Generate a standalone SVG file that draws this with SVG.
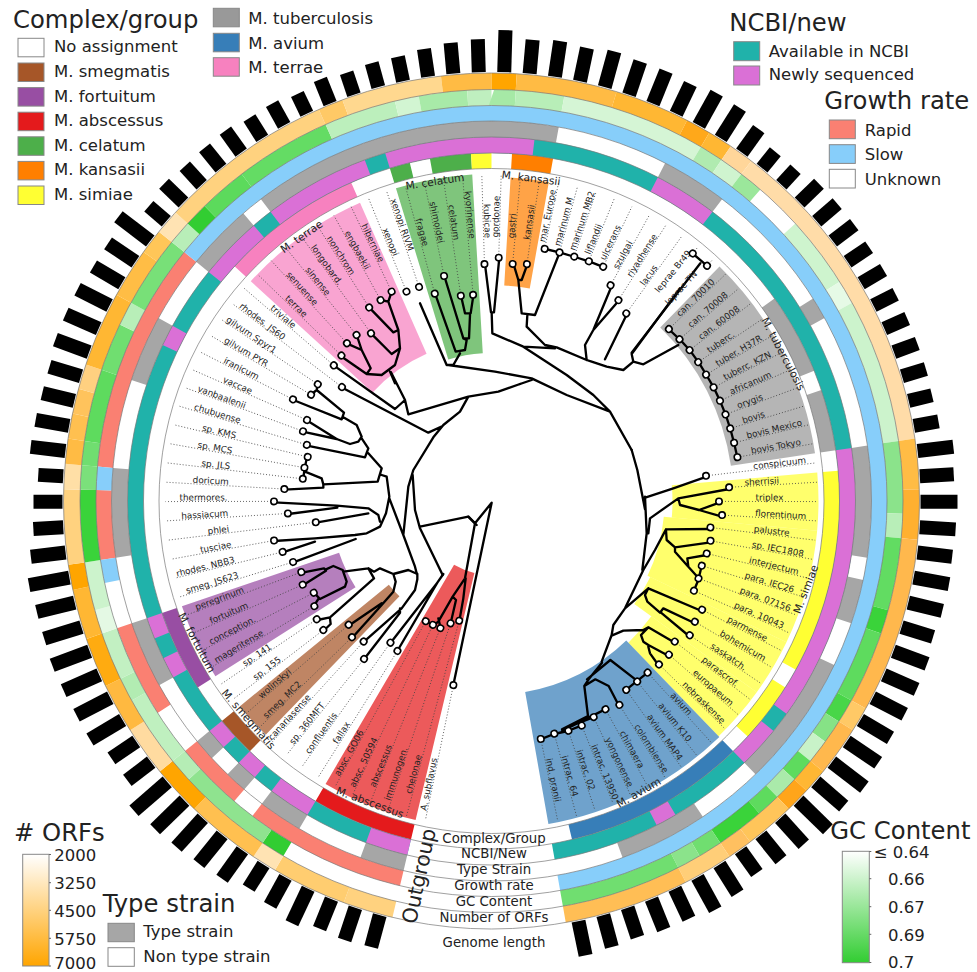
<svg xmlns="http://www.w3.org/2000/svg" width="977" height="972" viewBox="0 0 977 972">
<style>
text{font-family:"DejaVu Sans",sans-serif;fill:#222}
.ln{stroke:#444;stroke-width:.8;stroke-dasharray:1 2}
.n text{font-size:8.8px;text-anchor:middle}
.n circle{fill:#fff;stroke:#000;stroke-width:1.6;r:3.2px}
.t{fill:none;stroke:#000;stroke-width:7;stroke-linejoin:round;stroke-linecap:round}
.g{font-size:10.7px;text-anchor:middle}
.h{font-size:24.3px}
.l{font-size:16.5px}
.c{font-size:13.3px;text-anchor:middle}
.k{stroke:#888;stroke-width:1}
.e{fill:none;stroke:#777;stroke-width:.7}
.b rect{fill:#000}
.m{stroke:#666;stroke-width:1}
</style>
<defs>
<circle id="o" r="419.75" pathLength="360" fill="none" stroke-width="16.5"/>
<circle id="p" r="403.5" pathLength="360" fill="none" stroke-width="16"/>
<circle id="q" r="387.75" pathLength="360" fill="none" stroke-width="15.5"/>
<circle id="r" r="372" pathLength="360" fill="none" stroke-width="16"/>
<circle id="u" r="356" pathLength="360" fill="none" stroke-width="16"/>
<circle id="v" r="340.25" pathLength="360" fill="none" stroke-width="15.5"/>
<linearGradient id="go" x1="0" y1="0" x2="0" y2="1"><stop offset="0" stop-color="#fff"/><stop offset="1" stop-color="#ffa500"/></linearGradient>
<linearGradient id="gg" x1="0" y1="0" x2="0" y2="1"><stop offset="0" stop-color="#fff"/><stop offset="1" stop-color="#32cd32"/></linearGradient>
</defs>
<g transform="translate(491.5 501)">
<g id="strips" transform="rotate(90)" fill="none" stroke-opacity=".72">
<circle r="201" pathLength="360" stroke="#e41a1c" stroke-width="254" stroke-dasharray="17 720" stroke-dashoffset="-13.4"/>
<circle r="228.75" pathLength="360" stroke="#a65628" stroke-width="192.5" stroke-dasharray="6.8 720" stroke-dashoffset="-44"/>
<circle r="244" pathLength="360" stroke="#984ea3" stroke-width="166" stroke-dasharray="13.6 720" stroke-dashoffset="-57.6"/>
<circle r="243.5" pathLength="360" stroke="#f781bf" stroke-width="165" stroke-dasharray="23.8 720" stroke-dashoffset="-132.4"/>
<circle r="237.5" pathLength="360" stroke="#4daf4a" stroke-width="179" stroke-dasharray="13.6 720" stroke-dashoffset="-163"/>
<circle r="270" pathLength="360" stroke="#ff7f00" stroke-width="108" stroke-dasharray="6.8 720" stroke-dashoffset="-183.4"/>
<circle r="284.5" pathLength="360" stroke="#999" stroke-width="85" stroke-dasharray="37.4 720" stroke-dashoffset="-224.2"/>
<circle r="254" pathLength="360" stroke="#ffff33" stroke-width="146" stroke-dasharray="10.2 720" stroke-dashoffset="-265"/>
<circle r="250" pathLength="360" stroke="#ffff33" stroke-width="154" stroke-dasharray="20.4 720" stroke-dashoffset="-275.2"/>
<circle r="251.5" pathLength="360" stroke="#ffff33" stroke-width="151" stroke-dasharray="10.2 720" stroke-dashoffset="-295.6"/>
<circle r="262" pathLength="360" stroke="#ffff33" stroke-width="130" stroke-dasharray="10.2 720" stroke-dashoffset="-305.8"/>
<circle r="261" pathLength="360" stroke="#377eb8" stroke-width="134" stroke-dasharray="34 720" stroke-dashoffset="-316"/>
</g>
<g id="rings" transform="rotate(90)">
<g id="ring-complex">
<use href="#v" stroke="#e41a1c" stroke-dasharray="17 720" stroke-dashoffset="-13.4"/>
<use href="#v" stroke="#a65628" stroke-dasharray="6.8 720" stroke-dashoffset="-44"/>
<use href="#v" stroke="#984ea3" stroke-dasharray="13.6 720" stroke-dashoffset="-57.6"/>
<use href="#v" stroke="#f781bf" stroke-dasharray="23.8 720" stroke-dashoffset="-132.4"/>
<use href="#v" stroke="#4daf4a" stroke-dasharray="3.4 720" stroke-dashoffset="-163"/>
<use href="#v" stroke="#4daf4a" stroke-dasharray="6.8 720" stroke-dashoffset="-169.8"/>
<use href="#v" stroke="#ffff33" stroke-dasharray="3.4 720" stroke-dashoffset="-176.6"/>
<use href="#v" stroke="#ff7f00" stroke-dasharray="6.8 720" stroke-dashoffset="-183.4"/>
<use href="#v" stroke="#a6a6a6" stroke-dasharray="13.6 720" stroke-dashoffset="-234.4"/>
<use href="#v" stroke="#a6a6a6" stroke-dasharray="10.2 720" stroke-dashoffset="-251.4"/>
<use href="#v" stroke="#ffff33" stroke-dasharray="34 720" stroke-dashoffset="-265"/>
<use href="#v" stroke="#ffff33" stroke-dasharray="10.2 720" stroke-dashoffset="-302.4"/>
<use href="#v" stroke="#377eb8" stroke-dasharray="30.6 720" stroke-dashoffset="-316"/>
</g>
<g id="ring-ncbi">
<use href="#u" stroke="#20b2aa" stroke-dasharray="336.6 720" stroke-dashoffset="-13.4"/>
<use href="#u" stroke="#da70d6" stroke-dasharray="6.8 720" stroke-dashoffset="-13.4"/>
<use href="#u" stroke="#da70d6" stroke-dasharray="6.8 720" stroke-dashoffset="-30.4"/>
<use href="#u" stroke="#da70d6" stroke-dasharray="3.4 720" stroke-dashoffset="-40.6"/>
<use href="#u" stroke="#da70d6" stroke-dasharray="3.4 720" stroke-dashoffset="-47.4"/>
<use href="#u" stroke="#da70d6" stroke-dasharray="3.4 720" stroke-dashoffset="-61"/>
<use href="#u" stroke="#da70d6" stroke-dasharray="3.4 720" stroke-dashoffset="-67.8"/>
<use href="#u" stroke="#da70d6" stroke-dasharray="3.4 720" stroke-dashoffset="-115.4"/>
<use href="#u" stroke="#da70d6" stroke-dasharray="10.2 720" stroke-dashoffset="-129"/>
<use href="#u" stroke="#da70d6" stroke-dasharray="17 720" stroke-dashoffset="-142.6"/>
<use href="#u" stroke="#da70d6" stroke-dasharray="23.8 720" stroke-dashoffset="-163"/>
<use href="#u" stroke="#da70d6" stroke-dasharray="10.2 720" stroke-dashoffset="-207.2"/>
<use href="#u" stroke="#da70d6" stroke-dasharray="44.2 720" stroke-dashoffset="-261.6"/>
<use href="#u" stroke="#da70d6" stroke-dasharray="6.8 720" stroke-dashoffset="-309.2"/>
<use href="#u" stroke="#da70d6" stroke-dasharray="3.4 720" stroke-dashoffset="-329.6"/>
</g>
<g id="ring-type" stroke="#a6a6a6">
<use href="#r" stroke-dasharray="6.8 720" stroke-dashoffset="-13.4"/>
<use href="#r" stroke-dasharray="6.8 720" stroke-dashoffset="-30.4"/>
<use href="#r" stroke-dasharray="3.4 720" stroke-dashoffset="-40.6"/>
<use href="#r" stroke-dasharray="3.4 720" stroke-dashoffset="-47.4"/>
<use href="#r" stroke-dasharray="10.2 720" stroke-dashoffset="-61"/>
<use href="#r" stroke-dasharray="13.6 720" stroke-dashoffset="-81.4"/>
<use href="#r" stroke-dasharray="10.2 720" stroke-dashoffset="-108.6"/>
<use href="#r" stroke-dasharray="10.2 720" stroke-dashoffset="-129"/>
<use href="#r" stroke-dasharray="47.6 720" stroke-dashoffset="-142.6"/>
<use href="#r" stroke-dasharray="10.2 720" stroke-dashoffset="-207.2"/>
<use href="#r" stroke-dasharray="3.4 720" stroke-dashoffset="-237.8"/>
<use href="#r" stroke-dasharray="17 720" stroke-dashoffset="-261.6"/>
<use href="#r" stroke-dasharray="6.8 720" stroke-dashoffset="-282"/>
<use href="#r" stroke-dasharray="20.4 720" stroke-dashoffset="-295.6"/>
<use href="#r" stroke-dasharray="13.6 720" stroke-dashoffset="-326.2"/>
</g>
<g id="ring-growth">
<use href="#q" stroke="#fa8072" stroke-dasharray="23.8 720" stroke-dashoffset="-13.4"/>
<use href="#q" stroke="#fa8072" stroke-dasharray="10.2 720" stroke-dashoffset="-40.6"/>
<use href="#q" stroke="#fa8072" stroke-dasharray="13.6 720" stroke-dashoffset="-57.6"/>
<use href="#q" stroke="#fa8072" stroke-dasharray="10.2 720" stroke-dashoffset="-81.4"/>
<use href="#q" stroke="#fa8072" stroke-dasharray="34 720" stroke-dashoffset="-95"/>
<use href="#q" stroke="#87cefa" stroke-dasharray="3.4 720" stroke-dashoffset="-78"/>
<use href="#q" stroke="#87cefa" stroke-dasharray="3.4 720" stroke-dashoffset="-91.6"/>
<use href="#q" stroke="#87cefa" stroke-dasharray="221 720" stroke-dashoffset="-129"/>
</g>
<g id="ring-gc">
<use href="#p" stroke="#32cd32" stroke-dasharray="3.4 720" stroke-dashoffset="-30.4"/>
<use href="#p" stroke="#8fe38f" stroke-dasharray="13.6 720" stroke-dashoffset="-33.8"/>
<use href="#p" stroke="#b5edb5" stroke-dasharray="3.4 720" stroke-dashoffset="-47.4"/>
<use href="#p" stroke="#bff0bf" stroke-dasharray="10.2 720" stroke-dashoffset="-50.8"/>
<use href="#p" stroke="#b2ecb2" stroke-dasharray="3.4 720" stroke-dashoffset="-61"/>
<use href="#p" stroke="#c2f0c2" stroke-dasharray="6.8 720" stroke-dashoffset="-64.4"/>
<use href="#p" stroke="#e4f9e4" stroke-dasharray="3.4 720" stroke-dashoffset="-71.2"/>
<use href="#p" stroke="#ccf3cc" stroke-dasharray="6.8 720" stroke-dashoffset="-74.6"/>
<use href="#p" stroke="#3ad33a" stroke-dasharray="10.2 720" stroke-dashoffset="-81.4"/>
<use href="#p" stroke="#7be07b" stroke-dasharray="3.4 720" stroke-dashoffset="-91.6"/>
<use href="#p" stroke="#70de70" stroke-dasharray="3.4 720" stroke-dashoffset="-95"/>
<use href="#p" stroke="#5edb5e" stroke-dasharray="10.2 720" stroke-dashoffset="-98.4"/>
<use href="#p" stroke="#70de70" stroke-dasharray="6.8 720" stroke-dashoffset="-108.6"/>
<use href="#p" stroke="#b8eeb8" stroke-dasharray="3.4 720" stroke-dashoffset="-115.4"/>
<use href="#p" stroke="#78e078" stroke-dasharray="10.2 720" stroke-dashoffset="-118.8"/>
<use href="#p" stroke="#b8eeb8" stroke-dasharray="3.4 720" stroke-dashoffset="-129"/>
<use href="#p" stroke="#32cd32" stroke-dasharray="3.4 720" stroke-dashoffset="-132.4"/>
<use href="#p" stroke="#5cda5c" stroke-dasharray="6.8 720" stroke-dashoffset="-135.8"/>
<use href="#p" stroke="#64dc64" stroke-dasharray="13.6 720" stroke-dashoffset="-142.6"/>
<use href="#p" stroke="#bcefbc" stroke-dasharray="10.2 720" stroke-dashoffset="-156.2"/>
<use href="#p" stroke="#d2f5d2" stroke-dasharray="3.4 720" stroke-dashoffset="-166.4"/>
<use href="#p" stroke="#a8eaa8" stroke-dasharray="6.8 720" stroke-dashoffset="-169.8"/>
<use href="#p" stroke="#bfefbf" stroke-dasharray="3.4 720" stroke-dashoffset="-176.6"/>
<use href="#p" stroke="#a6e9a6" stroke-dasharray="3.4 720" stroke-dashoffset="-180"/>
<use href="#p" stroke="#b8eeb8" stroke-dasharray="6.8 720" stroke-dashoffset="-183.4"/>
<use href="#p" stroke="#d5f5d5" stroke-dasharray="20.4 720" stroke-dashoffset="-190.2"/>
<use href="#p" stroke="#b0ebb0" stroke-dasharray="3.4 720" stroke-dashoffset="-210.6"/>
<use href="#p" stroke="#cff4cf" stroke-dasharray="3.4 720" stroke-dashoffset="-214"/>
<use href="#p" stroke="#9be79b" stroke-dasharray="3.4 720" stroke-dashoffset="-217.4"/>
<use href="#p" stroke="#cef4ce" stroke-dasharray="10.2 720" stroke-dashoffset="-227.6"/>
<use href="#p" stroke="#e6fae6" stroke-dasharray="3.4 720" stroke-dashoffset="-237.8"/>
<use href="#p" stroke="#ccf3cc" stroke-dasharray="20.4 720" stroke-dashoffset="-241.2"/>
<use href="#p" stroke="#8be38b" stroke-dasharray="10.2 720" stroke-dashoffset="-261.6"/>
<use href="#p" stroke="#b8eeb8" stroke-dasharray="3.4 720" stroke-dashoffset="-271.8"/>
<use href="#p" stroke="#62dc62" stroke-dasharray="10.2 720" stroke-dashoffset="-275.2"/>
<use href="#p" stroke="#3ad33a" stroke-dasharray="3.4 720" stroke-dashoffset="-285.4"/>
<use href="#p" stroke="#5edb5e" stroke-dasharray="10.2 720" stroke-dashoffset="-288.8"/>
<use href="#p" stroke="#48d648" stroke-dasharray="3.4 720" stroke-dashoffset="-299"/>
<use href="#p" stroke="#86e286" stroke-dasharray="3.4 720" stroke-dashoffset="-302.4"/>
<use href="#p" stroke="#c8f2c8" stroke-dasharray="3.4 720" stroke-dashoffset="-305.8"/>
<use href="#p" stroke="#5edb5e" stroke-dasharray="3.4 720" stroke-dashoffset="-309.2"/>
<use href="#p" stroke="#aaeaaa" stroke-dasharray="3.4 720" stroke-dashoffset="-312.6"/>
<use href="#p" stroke="#5edb5e" stroke-dasharray="3.4 720" stroke-dashoffset="-316"/>
<use href="#p" stroke="#3ad33a" stroke-dasharray="6.8 720" stroke-dashoffset="-319.4"/>
<use href="#p" stroke="#70de70" stroke-dasharray="3.4 720" stroke-dashoffset="-326.2"/>
<use href="#p" stroke="#8be38b" stroke-dasharray="3.4 720" stroke-dashoffset="-329.6"/>
<use href="#p" stroke="#70de70" stroke-dasharray="17 720" stroke-dashoffset="-333"/>
</g>
<g id="ring-orf">
<use href="#o" stroke="#ffd27f" stroke-dasharray="6.8 720" stroke-dashoffset="-13.4"/>
<use href="#o" stroke="#ffcd70" stroke-dasharray="10.2 720" stroke-dashoffset="-20.2"/>
<use href="#o" stroke="#ffe3b3" stroke-dasharray="3.4 720" stroke-dashoffset="-30.4"/>
<use href="#o" stroke="#ffc050" stroke-dasharray="10.2 720" stroke-dashoffset="-33.8"/>
<use href="#o" stroke="#ffa500" stroke-dasharray="6.8 720" stroke-dashoffset="-44"/>
<use href="#o" stroke="#ffdba0" stroke-dasharray="6.8 720" stroke-dashoffset="-50.8"/>
<use href="#o" stroke="#ffb940" stroke-dasharray="6.8 720" stroke-dashoffset="-57.6"/>
<use href="#o" stroke="#ffab10" stroke-dasharray="6.8 720" stroke-dashoffset="-64.4"/>
<use href="#o" stroke="#ffb733" stroke-dasharray="6.8 720" stroke-dashoffset="-71.2"/>
<use href="#o" stroke="#ffa500" stroke-dasharray="3.4 720" stroke-dashoffset="-78"/>
<use href="#o" stroke="#ffd27f" stroke-dasharray="10.2 720" stroke-dashoffset="-81.4"/>
<use href="#o" stroke="#ffdfa6" stroke-dasharray="3.4 720" stroke-dashoffset="-91.6"/>
<use href="#o" stroke="#ffbb44" stroke-dasharray="3.4 720" stroke-dashoffset="-95"/>
<use href="#o" stroke="#ffc050" stroke-dasharray="3.4 720" stroke-dashoffset="-98.4"/>
<use href="#o" stroke="#ffc35c" stroke-dasharray="3.4 720" stroke-dashoffset="-101.8"/>
<use href="#o" stroke="#ffd080" stroke-dasharray="3.4 720" stroke-dashoffset="-105.2"/>
<use href="#o" stroke="#ffb733" stroke-dasharray="10.2 720" stroke-dashoffset="-108.6"/>
<use href="#o" stroke="#ffbd45" stroke-dasharray="6.8 720" stroke-dashoffset="-118.8"/>
<use href="#o" stroke="#ffc658" stroke-dasharray="3.4 720" stroke-dashoffset="-125.6"/>
<use href="#o" stroke="#ffe3b3" stroke-dasharray="3.4 720" stroke-dashoffset="-129"/>
<use href="#o" stroke="#ffd27f" stroke-dasharray="23.8 720" stroke-dashoffset="-132.4"/>
<use href="#o" stroke="#ffc966" stroke-dasharray="3.4 720" stroke-dashoffset="-156.2"/>
<use href="#o" stroke="#ffd88f" stroke-dasharray="13.6 720" stroke-dashoffset="-159.6"/>
<use href="#o" stroke="#ffbb44" stroke-dasharray="6.8 720" stroke-dashoffset="-173.2"/>
<use href="#o" stroke="#ffa500" stroke-dasharray="3.4 720" stroke-dashoffset="-180"/>
<use href="#o" stroke="#ffbb44" stroke-dasharray="13.6 720" stroke-dashoffset="-183.4"/>
<use href="#o" stroke="#ffb733" stroke-dasharray="10.2 720" stroke-dashoffset="-197"/>
<use href="#o" stroke="#ffa81a" stroke-dasharray="3.4 720" stroke-dashoffset="-207.2"/>
<use href="#o" stroke="#ffb733" stroke-dasharray="3.4 720" stroke-dashoffset="-210.6"/>
<use href="#o" stroke="#ffd69a" stroke-dasharray="3.4 720" stroke-dashoffset="-214"/>
<use href="#o" stroke="#ffdca8" stroke-dasharray="44.2 720" stroke-dashoffset="-217.4"/>
<use href="#o" stroke="#ffbc45" stroke-dasharray="6.8 720" stroke-dashoffset="-261.6"/>
<use href="#o" stroke="#ffb030" stroke-dasharray="6.8 720" stroke-dashoffset="-268.4"/>
<use href="#o" stroke="#ffb84d" stroke-dasharray="23.8 720" stroke-dashoffset="-275.2"/>
<use href="#o" stroke="#ffc966" stroke-dasharray="3.4 720" stroke-dashoffset="-299"/>
<use href="#o" stroke="#ffb84d" stroke-dasharray="6.8 720" stroke-dashoffset="-302.4"/>
<use href="#o" stroke="#ffb733" stroke-dasharray="3.4 720" stroke-dashoffset="-309.2"/>
<use href="#o" stroke="#ffa51a" stroke-dasharray="3.4 720" stroke-dashoffset="-312.6"/>
<use href="#o" stroke="#ffc55a" stroke-dasharray="6.8 720" stroke-dashoffset="-316"/>
<use href="#o" stroke="#ffc060" stroke-dasharray="3.4 720" stroke-dashoffset="-322.8"/>
<use href="#o" stroke="#ffce78" stroke-dasharray="6.8 720" stroke-dashoffset="-326.2"/>
<use href="#o" stroke="#ffbe55" stroke-dasharray="17 720" stroke-dashoffset="-333"/>
</g>
</g>
<g id="ring-edges" class="e">
<circle r="332.5"/><circle r="348"/><circle r="364"/><circle r="380"/><circle r="395.5"/><circle r="411.5"/><circle r="428"/>
</g>
<g id="bars" class="b">
<rect x="-7" y="429" width="14" height="33" transform="rotate(15.1)"/><rect x="-7" y="429" width="14" height="34" transform="rotate(18.5)"/><rect x="-7" y="429" width="14" height="32" transform="rotate(21.9)"/><rect x="-7" y="429" width="14" height="38" transform="rotate(25.3)"/><rect x="-7" y="429" width="14" height="32" transform="rotate(28.7)"/><rect x="-7" y="429" width="14" height="28" transform="rotate(32.1)"/><rect x="-7" y="429" width="14" height="35" transform="rotate(35.5)"/><rect x="-7" y="429" width="14" height="37" transform="rotate(38.9)"/><rect x="-7" y="429" width="14" height="39" transform="rotate(42.3)"/><rect x="-7" y="429" width="14" height="41" transform="rotate(45.7)"/><rect x="-7" y="429" width="14" height="44" transform="rotate(49.1)"/><rect x="-7" y="429" width="14" height="30" transform="rotate(52.5)"/><rect x="-7" y="429" width="14" height="30" transform="rotate(55.9)"/><rect x="-7" y="429" width="14" height="38" transform="rotate(59.3)"/><rect x="-7" y="429" width="14" height="38" transform="rotate(62.7)"/><rect x="-7" y="429" width="14" height="39" transform="rotate(66.1)"/><rect x="-7" y="429" width="14" height="40" transform="rotate(69.5)"/><rect x="-7" y="429" width="14" height="39" transform="rotate(72.9)"/><rect x="-7" y="429" width="14" height="39" transform="rotate(76.3)"/><rect x="-7" y="429" width="14" height="41" transform="rotate(79.7)"/><rect x="-7" y="429" width="14" height="35" transform="rotate(83.1)"/><rect x="-7" y="429" width="14" height="30" transform="rotate(86.5)"/><rect x="-7" y="429" width="14" height="29" transform="rotate(89.9)"/><rect x="-7" y="429" width="14" height="25" transform="rotate(93.3)"/><rect x="-7" y="429" width="14" height="35" transform="rotate(96.7)"/><rect x="-7" y="429" width="14" height="34" transform="rotate(100.1)"/><rect x="-7" y="429" width="14" height="33" transform="rotate(103.5)"/><rect x="-7" y="429" width="14" height="33" transform="rotate(106.9)"/><rect x="-7" y="429" width="14" height="36" transform="rotate(110.3)"/><rect x="-7" y="429" width="14" height="36" transform="rotate(113.7)"/><rect x="-7" y="429" width="14" height="36" transform="rotate(117.1)"/><rect x="-7" y="429" width="14" height="33" transform="rotate(120.5)"/><rect x="-7" y="429" width="14" height="33" transform="rotate(123.9)"/><rect x="-7" y="429" width="14" height="40" transform="rotate(127.3)"/><rect x="-7" y="429" width="14" height="23" transform="rotate(130.7)"/><rect x="-7" y="429" width="14" height="27" transform="rotate(134.1)"/><rect x="-7" y="429" width="14" height="25" transform="rotate(137.5)"/><rect x="-7" y="429" width="14" height="26" transform="rotate(140.9)"/><rect x="-7" y="429" width="14" height="27" transform="rotate(144.3)"/><rect x="-7" y="429" width="14" height="24" transform="rotate(147.7)"/><rect x="-7" y="429" width="14" height="25" transform="rotate(151.1)"/><rect x="-7" y="429" width="14" height="22" transform="rotate(154.5)"/><rect x="-7" y="429" width="14" height="26" transform="rotate(157.9)"/><rect x="-7" y="429" width="14" height="23" transform="rotate(161.3)"/><rect x="-7" y="429" width="14" height="25" transform="rotate(164.7)"/><rect x="-7" y="429" width="14" height="25" transform="rotate(168.1)"/><rect x="-7" y="429" width="14" height="28" transform="rotate(171.5)"/><rect x="-7" y="429" width="14" height="31" transform="rotate(174.9)"/><rect x="-7" y="429" width="14" height="33" transform="rotate(178.3)"/><rect x="-7" y="429" width="14" height="42" transform="rotate(181.7)"/><rect x="-7" y="429" width="14" height="34" transform="rotate(185.1)"/><rect x="-7" y="429" width="14" height="36" transform="rotate(188.5)"/><rect x="-7" y="429" width="14" height="34" transform="rotate(191.9)"/><rect x="-7" y="429" width="14" height="37" transform="rotate(195.3)"/><rect x="-7" y="429" width="14" height="35" transform="rotate(198.7)"/><rect x="-7" y="429" width="14" height="35" transform="rotate(202.1)"/><rect x="-7" y="429" width="14" height="33" transform="rotate(205.5)"/><rect x="-7" y="429" width="14" height="37" transform="rotate(208.9)"/><rect x="-7" y="429" width="14" height="36" transform="rotate(212.3)"/><rect x="-7" y="429" width="14" height="29" transform="rotate(215.7)"/><rect x="-7" y="429" width="14" height="21" transform="rotate(219.1)"/><rect x="-7" y="429" width="14" height="21" transform="rotate(222.5)"/><rect x="-7" y="429" width="14" height="27" transform="rotate(225.9)"/><rect x="-7" y="429" width="14" height="27" transform="rotate(229.3)"/><rect x="-7" y="429" width="14" height="27" transform="rotate(232.7)"/><rect x="-7" y="429" width="14" height="26" transform="rotate(236.1)"/><rect x="-7" y="429" width="14" height="26" transform="rotate(239.5)"/><rect x="-7" y="429" width="14" height="25" transform="rotate(242.9)"/><rect x="-7" y="429" width="14" height="25" transform="rotate(246.3)"/><rect x="-7" y="429" width="14" height="25" transform="rotate(249.7)"/><rect x="-7" y="429" width="14" height="25" transform="rotate(253.1)"/><rect x="-7" y="429" width="14" height="24" transform="rotate(256.5)"/><rect x="-7" y="429" width="14" height="25" transform="rotate(259.9)"/><rect x="-7" y="429" width="14" height="36" transform="rotate(263.3)"/><rect x="-7" y="429" width="14" height="34" transform="rotate(266.7)"/><rect x="-7" y="429" width="14" height="37" transform="rotate(270.1)"/><rect x="-7" y="429" width="14" height="36" transform="rotate(273.5)"/><rect x="-7" y="429" width="14" height="35" transform="rotate(276.9)"/><rect x="-7" y="429" width="14" height="36" transform="rotate(280.3)"/><rect x="-7" y="429" width="14" height="35" transform="rotate(283.7)"/><rect x="-7" y="429" width="14" height="33" transform="rotate(287.1)"/><rect x="-7" y="429" width="14" height="36" transform="rotate(290.5)"/><rect x="-7" y="429" width="14" height="36" transform="rotate(293.9)"/><rect x="-7" y="429" width="14" height="36" transform="rotate(297.3)"/><rect x="-7" y="429" width="14" height="35" transform="rotate(300.7)"/><rect x="-7" y="429" width="14" height="38" transform="rotate(304.1)"/><rect x="-7" y="429" width="14" height="41" transform="rotate(307.5)"/><rect x="-7" y="429" width="14" height="37" transform="rotate(310.9)"/><rect x="-7" y="429" width="14" height="41" transform="rotate(314.3)"/><rect x="-7" y="429" width="14" height="35" transform="rotate(317.7)"/><rect x="-7" y="429" width="14" height="32" transform="rotate(321.1)"/><rect x="-7" y="429" width="14" height="28" transform="rotate(324.5)"/><rect x="-7" y="429" width="14" height="34" transform="rotate(327.9)"/><rect x="-7" y="429" width="14" height="37" transform="rotate(331.3)"/><rect x="-7" y="429" width="14" height="33" transform="rotate(334.7)"/><rect x="-7" y="429" width="14" height="33" transform="rotate(338.1)"/><rect x="-7" y="429" width="14" height="31" transform="rotate(341.5)"/><rect x="-7" y="429" width="14" height="33" transform="rotate(344.9)"/><rect x="-7" y="429" width="14" height="35" transform="rotate(348.3)"/>
</g>
</g>
<g id="connectors" class="t">
<path transform="scale(.33333)" d="M1022 1068L1100 1122L1112 1105L1085 1050L1040 1030M1085 1050L1070 1005M1100 1122L1145 1125L1185 1095L1200 1045L1195 990L1165 905L1142 900M1165 905L1175 875M1195 990L1180 997L1108 923M1200 1045L1175 1062L1113 1000M1170 1115L1185 1150"/>
<path transform="translate(260 340) scale(.33333)" d="M393 97L435 180L405 207L222 77M435 180L445 223L625 170L715 155L780 132M625 170L600 215L550 255L520 292L460 390L445 440L430 585M247 143L505 278L548 258M173 133L170 150L252 218L245 238L100 180M152 165L170 150M250 232L290 255L305 290L295 305L270 312L230 297L140 241M230 297L128 275M305 295L325 325L315 352L141 317M325 340L365 385L353 425L190 433L185 415L135 395M141 352L134 385L129 420M190 433L190 443L73 449M365 405L380 410L388 470L378 520L360 560L320 580L285 585L165 595L42 603M360 545L355 525L325 505L230 497L42 487M232 503L85 522M325 520L168 548M165 605L68 637M287 597L100 667M388 475L430 585L465 680L470 700M458 405L465 510L480 565L548 705M480 560L625 530L650 555"/>
<path transform="translate(300 500) scale(.33333)" d="M505 50L525 70L495 235L458 290L415 365L400 375L378 365M415 355L422 385M458 290L468 300L452 370M497 235L490 295L478 363M525 70L575 8L460 555M430 222L412 248L272 428M412 248L292 453M352 222L325 210L280 222L240 205L222 215L205 205L130 215M352 222L352 238L345 270L305 325L192 425M300 325L300 338L192 478M280 222L287 245L280 275L245 315L158 412M245 310L148 376M205 205L222 235L90 352L52 360M90 355L92 372L70 393M7 218L72 205L78 212L10 255M78 208L100 198L128 210L140 245L135 260L60 297L44 280M55 297L48 308L44 320"/>
<path transform="translate(420 250) scale(.33333)" d="M0 160L80 345L100 345M85 345L225 365L335 385L440 435L570 485L635 600M120 310L100 345M45 130L107 305L135 300L140 270L130 265L73 78M150 195L147 265L130 265M160 137L152 190L135 190L123 137M300 402L335 390M195 43L213 187L222 187L238 23M215 187L217 250L310 290L405 295M310 290L440 375L520 435L570 485M280 40L295 90L305 90L322 43M295 90L305 190L345 195L418 10M322 195L320 230L375 285L410 292L500 330L515 335L560 350L610 360L640 335L635 312L780 115M640 335L670 343L775 285M500 330L495 285L520 240L575 108M520 240L598 150M555 328L622 190"/>
<path transform="translate(487 0) scale(.33333)" d="M640 790L434 1058M620 763L663 800M548 990L581 1021L611 1054L637 1090L660 1128L682 1166L701 1207L717 1247L731 1290L742 1332L752 1376M175 747L220 758L264 771L308 785L352 802"/>
<path transform="translate(580 470) scale(.33333)" d="M155 -60L172 0L195 118M195 80L200 190L187 300M198 82L280 55L380 20M210 145L295 85L448 57M295 85L300 105L357 120L418 98M357 120L426 140M205 190L210 145M258 178L390 177M258 178L225 240L190 300L135 415L100 465L95 495L65 575M258 180L260 210L285 232L392 217M285 232L285 245L325 290L322 265L380 255M325 290L352 320M364 292L355 330L340 366M205 355L365 423M205 355L135 415M205 355L195 375L202 395L240 428L250 415L343 459M243 428L327 498M95 497L130 482L190 480L205 472L282 517M205 472L183 495L190 515L205 525L265 557M205 530L210 550L235 585"/>
<path transform="translate(487 486) scale(.33333)" d="M345 530L305 580L292 600L303 690L225 730M300 580L370 522L445 580M479 562L415 613M292 600L325 580L365 600L395 658M160 760L201 744L242 735L283 719M225 730L318 694M225 735L353 671"/>
</g>
<g id="leaves" class="n" transform="translate(491.5 501)">
<g id="n1" transform="rotate(-78.3)"><line class="ln" x1="-188" x2="-326"/><text x="-290" y="-1">A. subflavus</text><circle cx="-188" r="3"/></g>
<g id="n2" transform="rotate(-74.9)"><line class="ln" x1="-124" x2="-326"/><text x="-284" y="-1">chelonae</text><circle cx="-124" r="3"/></g>
<g id="n3" transform="rotate(-71.5)"><line class="ln" x1="-129" x2="-326"/><text x="-289" y="-1">immunogen.</text><circle cx="-129" r="3"/></g>
<g id="n4" transform="rotate(-68.1)"><line class="ln" x1="-137" x2="-326"/><text x="-287" y="-1">abscessus</text><circle cx="-137" r="3"/></g>
<g id="n5" transform="rotate(-64.7)"><line class="ln" x1="-137" x2="-326"/><text x="-291" y="-1">absc. 50594</text><circle cx="-137" r="3"/></g>
<g id="n6" transform="rotate(-61.3)"><line class="ln" x1="-137" x2="-326"/><text x="-289.5" y="-1">absc. GO06</text><circle cx="-137" r="3"/></g>
<g id="n7" transform="rotate(-57.9)"><line class="ln" x1="-177" x2="-326"/><text x="-276" y="-1">fallax</text><circle cx="-177" r="3"/></g>
<g id="n8" transform="rotate(-54.5)"><line class="ln" x1="-174" x2="-326"/><text x="-288" y="-1">confluentis</text><circle cx="-174" r="3"/></g>
<g id="n9" transform="rotate(-51.1)"><line class="ln" x1="-203" x2="-326"/><text x="-289" y="-1">sp. 360MFT</text><circle cx="-203" r="3"/></g>
<g id="n10" transform="rotate(-47.7)"><line class="ln" x1="-190" x2="-326"/><text x="-296" y="-1">canariasense</text><circle cx="-190" r="3"/></g>
<g id="n11" transform="rotate(-44.3)"><line class="ln" x1="-195" x2="-326"/><text x="-288.7" y="-1">smeg. MC2</text><circle cx="-195" r="3"/></g>
<g id="n12" transform="rotate(-40.9)"><line class="ln" x1="-189" x2="-326"/><text x="-283.4" y="-1">wolinskyi</text><circle cx="-189" r="3"/></g>
<g id="n13" transform="rotate(-37.5)"><line class="ln" x1="-212" x2="-326"/><text x="-280" y="-1">sp. 155</text><circle cx="-212" r="3"/></g>
<g id="n14" transform="rotate(-34.1)"><line class="ln" x1="-211" x2="-326"/><text x="-280.6" y="-1">sp. 141</text><circle cx="-211" r="3"/></g>
<g id="n15" transform="rotate(-30.7)"><line class="ln" x1="-206" x2="-326"/><text x="-291.6" y="-1">mageritense</text><circle cx="-206" r="3"/></g>
<g id="n16" transform="rotate(-27.3)"><line class="ln" x1="-200" x2="-326"/><text x="-289.6" y="-1">conception.</text><circle cx="-200" r="3"/></g>
<g id="n17" transform="rotate(-23.9)"><line class="ln" x1="-206.5" x2="-326"/><text x="-285.5" y="-1">fortuitum</text><circle cx="-206.5" r="3"/></g>
<g id="n18" transform="rotate(-20.5)"><line class="ln" x1="-203" x2="-326"/><text x="-289" y="-1">peregrinum</text><circle cx="-203" r="3"/></g>
<g id="n19" transform="rotate(-17.1)"><line class="ln" x1="-207.6" x2="-326"/><text x="-291" y="-1">smeg. JS623</text><circle cx="-207.6" r="3"/></g>
<g id="n20" transform="rotate(-13.7)"><line class="ln" x1="-215" x2="-326"/><text x="-293.5" y="-1">rhodes. NBB3</text><circle cx="-215" r="3"/></g>
<g id="n21" transform="rotate(-10.3)"><line class="ln" x1="-221" x2="-326"/><text x="-279.6" y="-1">tusciae</text><circle cx="-221" r="3"/></g>
<g id="n22" transform="rotate(-6.9)"><line class="ln" x1="-177" x2="-326"/><text x="-274.6" y="-1">phlei</text><circle cx="-177" r="3"/></g>
<g id="n23" transform="rotate(-3.5)"><line class="ln" x1="-204" x2="-326"/><text x="-287" y="-1">hassiacum</text><circle cx="-204" r="3"/></g>
<g id="n24" transform="rotate(-.1)"><line class="ln" x1="-217.5" x2="-326"/><text x="-288" y="-1">thermores.</text><circle cx="-217.5" r="3"/></g>
<g id="n25" transform="rotate(3.3)"><line class="ln" x1="-207.5" x2="-326"/><text x="-281.5" y="-1">doricum</text><circle cx="-207.5" r="3"/></g>
<g id="n26" transform="rotate(6.7)"><line class="ln" x1="-190" x2="-326"/><text x="-278" y="-1">sp. JLS</text><circle cx="-190" r="3"/></g>
<g id="n27" transform="rotate(10.1)"><line class="ln" x1="-190" x2="-326"/><text x="-281.5" y="-1">sp. MCS</text><circle cx="-190" r="3"/></g>
<g id="n28" transform="rotate(13.5)"><line class="ln" x1="-189" x2="-326"/><text x="-281" y="-1">sp. KMS</text><circle cx="-189" r="3"/></g>
<g id="n29" transform="rotate(16.9)"><line class="ln" x1="-193" x2="-326"/><text x="-287.6" y="-1">chubuense</text><circle cx="-193" r="3"/></g>
<g id="n30" transform="rotate(20.3)"><line class="ln" x1="-201" x2="-326"/><text x="-289" y="-1">vanbaalenii</text><circle cx="-201" r="3"/></g>
<g id="n31" transform="rotate(23.7)"><line class="ln" x1="-201.5" x2="-326"/><text x="-279" y="-1">vaccae</text><circle cx="-201.5" r="3"/></g>
<g id="n32" transform="rotate(27.1)"><line class="ln" x1="-223" x2="-326"/><text x="-283" y="-1">iranicum</text><circle cx="-223" r="3"/></g>
<g id="n33" transform="rotate(30.5)"><line class="ln" x1="-209.4" x2="-326"/><text x="-287" y="-1">gilvum PYR</text><circle cx="-209.4" r="3"/></g>
<g id="n34" transform="rotate(33.9)"><line class="ln" x1="-209.3" x2="-326"/><text x="-292" y="-1">gilvum Spyr1</text><circle cx="-209.3" r="3"/></g>
<g id="n35" transform="rotate(37.3)"><line class="ln" x1="-188" x2="-326"/><text x="-291" y="-1">rhodes. JS60</text><circle cx="-188" r="3"/></g>
<g id="n36" transform="rotate(40.7)"><line class="ln" x1="-208" x2="-326"/><text x="-278" y="-1">triviale</text><circle cx="-208" r="3"/></g>
<g id="n37" transform="rotate(44.1)"><line class="ln" x1="-209" x2="-326"/><text x="-275.7" y="-1">terrae</text><circle cx="-209" r="3"/></g>
<g id="n38" transform="rotate(47.5)"><line class="ln" x1="-214" x2="-326"/><text x="-284.7" y="-1">senuense</text><circle cx="-214" r="3"/></g>
<g id="n39" transform="rotate(50.9)"><line class="ln" x1="-214" x2="-326"/><text x="-280" y="-1">sinense</text><circle cx="-214" r="3"/></g>
<g id="n40" transform="rotate(54.3)"><line class="ln" x1="-206.5" x2="-326"/><text x="-288" y="-1">longobard.</text><circle cx="-206.5" r="3"/></g>
<g id="n41" transform="rotate(57.7)"><line class="ln" x1="-229" x2="-326"/><text x="-288" y="-1">nonchrom</text><circle cx="-229" r="3"/></g>
<g id="n42" transform="rotate(61.1)"><line class="ln" x1="-229.5" x2="-326"/><text x="-284.5" y="-1">engbaekii</text><circle cx="-229.5" r="3"/></g>
<g id="n43" transform="rotate(64.5)"><line class="ln" x1="-232" x2="-326"/><text x="-284" y="-1">hiberniae</text><circle cx="-232" r="3"/></g>
<g id="n44" transform="rotate(67.9)"><line class="ln" x1="-226" x2="-326"/><text x="-278" y="-1">xenopi</text><circle cx="-226" r="3"/></g>
<g id="n45" transform="rotate(71.3)"><line class="ln" x1="-226" x2="-326"/><text x="-290.4" y="-1">xenopi RIVM</text><circle cx="-226" r="3"/></g>
<g id="n46" transform="rotate(74.7)"><line class="ln" x1="-215" x2="-326"/><text x="-277.5" y="-1">fragae</text><circle cx="-215" r="3"/></g>
<g id="n47" transform="rotate(78.1)"><line class="ln" x1="-230" x2="-326"/><text x="-284" y="-1">shimoidei</text><circle cx="-230" r="3"/></g>
<g id="n48" transform="rotate(81.5)"><line class="ln" x1="-207.5" x2="-326"/><text x="-281" y="-1">celatum</text><circle cx="-207.5" r="3"/></g>
<g id="n49" transform="rotate(84.9)"><line class="ln" x1="-207" x2="-326"/><text x="-287" y="-1">kyorinense</text><circle cx="-207" r="3"/></g>
<g id="n50" transform="rotate(88.3)"><line class="ln" x1="-237" x2="-326"/><text x="-280" y="-1">kubicae</text><circle cx="-237" r="3"/></g>
<g id="n51" transform="rotate(-88.3)"><line class="ln" x1="243.4" x2="326"/><text x="284.5" y="-1">gordonae</text><circle cx="243.4" r="3"/></g>
<g id="n52" transform="rotate(-84.9)"><line class="ln" x1="238" x2="326"/><text x="276" y="-1">gastri</text><circle cx="238" r="3"/></g>
<g id="n53" transform="rotate(-81.5)"><line class="ln" x1="239.5" x2="326"/><text x="281.5" y="-1">kansasii</text><circle cx="239.5" r="3"/></g>
<g id="n54" transform="rotate(-78.1)"><line class="ln" x1="257.7" x2="326"/><text x="290.7" y="-1">mar. Europe</text><circle cx="257.7" r="3"/></g>
<g id="n55" transform="rotate(-74.7)"><line class="ln" x1="257.7" x2="326"/><text x="288.7" y="-1">marinum M</text><circle cx="257.7" r="3"/></g>
<g id="n56" transform="rotate(-71.3)"><line class="ln" x1="258" x2="326"/><text x="294.6" y="-1">marinum MB2</text><circle cx="258" r="3"/></g>
<g id="n57" transform="rotate(-67.9)"><line class="ln" x1="258.7" x2="326"/><text x="281" y="-1">liflandii</text><circle cx="258.7" r="3"/></g>
<g id="n58" transform="rotate(-64.5)"><line class="ln" x1="259.5" x2="326"/><text x="284.5" y="-1">ulcerans</text><circle cx="259.5" r="3"/></g>
<g id="n59" transform="rotate(-61.1)"><line class="ln" x1="246.4" x2="326"/><text x="279" y="-1">szulgai</text><circle cx="246.4" r="3"/></g>
<g id="n60" transform="rotate(-57.7)"><line class="ln" x1="237.6" x2="326"/><text x="288" y="-1">riyadhense</text><circle cx="237.6" r="3"/></g>
<g id="n61" transform="rotate(-54.3)"><line class="ln" x1="231" x2="326"/><text x="275" y="-1">lacus</text><circle cx="231" r="3"/></g>
<g id="n62" transform="rotate(-50.9)"><line class="ln" x1="319" x2="326"/><text x="292.6" y="-1">leprae Br49</text><circle cx="319" r="3"/></g>
<g id="n63" transform="rotate(-47.5)"><line class="ln" x1="319" x2="326"/><text x="285" y="-1">leprae TN</text><circle cx="319" r="3"/></g>
<g id="n64" transform="rotate(-44.1)"><line class="ln" x1="247" x2="326"/><text x="288" y="-1">can. 70010</text><circle cx="247" r="3"/></g>
<g id="n65" transform="rotate(-40.7)"><line class="ln" x1="248" x2="326"/><text x="288.8" y="-1">can. 70008</text><circle cx="248" r="3"/></g>
<g id="n66" transform="rotate(-37.3)"><line class="ln" x1="249" x2="326"/><text x="289" y="-1">can. 60008</text><circle cx="249" r="3"/></g>
<g id="n67" transform="rotate(-33.9)"><line class="ln" x1="249" x2="326"/><text x="279" y="-1">tuberc.</text><circle cx="249" r="3"/></g>
<g id="n68" transform="rotate(-30.5)"><line class="ln" x1="249" x2="326"/><text x="289.4" y="-1">tuber. H37R</text><circle cx="249" r="3"/></g>
<g id="n69" transform="rotate(-27.1)"><line class="ln" x1="249.5" x2="326"/><text x="289.3" y="-1">tuberc. KZN</text><circle cx="249.5" r="3"/></g>
<g id="n70" transform="rotate(-23.7)"><line class="ln" x1="249.5" x2="326"/><text x="284.5" y="-1">africanum</text><circle cx="249.5" r="3"/></g>
<g id="n71" transform="rotate(-20.3)"><line class="ln" x1="249.5" x2="326"/><text x="277" y="-1">orygis</text><circle cx="249.5" r="3"/></g>
<g id="n72" transform="rotate(-16.9)"><line class="ln" x1="249.5" x2="326"/><text x="275" y="-1">bovis</text><circle cx="249.5" r="3"/></g>
<g id="n73" transform="rotate(-13.5)"><line class="ln" x1="249.5" x2="326"/><text x="291.6" y="-1">bovis Mexico</text><circle cx="249.5" r="3"/></g>
<g id="n74" transform="rotate(-10.1)"><line class="ln" x1="249.8" x2="326"/><text x="289.5" y="-1">bovis Tokyo</text><circle cx="249.8" r="3"/></g>
<g id="n75" transform="rotate(-6.7)"><line class="ln" x1="216" x2="326"/><text x="290.5" y="-1">conspicuum</text><circle cx="216" r="3"/></g>
<g id="n76" transform="rotate(-3.3)"><line class="ln" x1="238" x2="326"/><text x="271" y="-1">sherrisii</text><circle cx="238" r="3"/></g>
<g id="n77" transform="rotate(.1)"><line class="ln" x1="227.5" x2="326"/><text x="278" y="-1">triplex</text><circle cx="227.5" r="3"/></g>
<g id="n78" transform="rotate(3.5)"><line class="ln" x1="231" x2="326"/><text x="289.5" y="-1">florentinum</text><circle cx="231" r="3"/></g>
<g id="n79" transform="rotate(6.9)"><line class="ln" x1="220.5" x2="326"/><text x="281.7" y="-1">palustre</text><circle cx="220.5" r="3"/></g>
<g id="n80" transform="rotate(10.3)"><line class="ln" x1="222.6" x2="326"/><text x="290.4" y="-1">sp. IEC1808</text><circle cx="222.6" r="3"/></g>
<g id="n81" transform="rotate(13.7)"><line class="ln" x1="221.5" x2="326"/><text x="289.8" y="-1">interjectum</text><circle cx="221.5" r="3"/></g>
<g id="n82" transform="rotate(17.1)"><line class="ln" x1="220" x2="326"/><text x="289.8" y="-1">para. IEC26</text><circle cx="220" r="3"/></g>
<g id="n83" transform="rotate(20.5)"><line class="ln" x1="221" x2="326"/><text x="291" y="-1">para. 07156</text><circle cx="221" r="3"/></g>
<g id="n84" transform="rotate(23.9)"><line class="ln" x1="221.4" x2="326"/><text x="291" y="-1">para. 10043</text><circle cx="221.4" r="3"/></g>
<g id="n85" transform="rotate(27.3)"><line class="ln" x1="237" x2="326"/><text x="286" y="-1">parmense</text><circle cx="237" r="3"/></g>
<g id="n86" transform="rotate(30.7)"><line class="ln" x1="236.5" x2="326"/><text x="290" y="-1">bohemicum</text><circle cx="236.5" r="3"/></g>
<g id="n87" transform="rotate(34.1)"><line class="ln" x1="239.4" x2="326"/><text x="283.7" y="-1">saskatch.</text><circle cx="239.4" r="3"/></g>
<g id="n88" transform="rotate(37.5)"><line class="ln" x1="231" x2="326"/><text x="285.4" y="-1">parascrof.</text><circle cx="231" r="3"/></g>
<g id="n89" transform="rotate(40.9)"><line class="ln" x1="234.7" x2="326"/><text x="289.8" y="-1">europaeum</text><circle cx="234.7" r="3"/></g>
<g id="n90" transform="rotate(44.3)"><line class="ln" x1="234" x2="326"/><text x="292.7" y="-1">nebraskense</text><circle cx="234" r="3"/></g>
<g id="n91" transform="rotate(47.7)"><line class="ln" x1="232" x2="326"/><text x="277.7" y="-1">avium</text><circle cx="232" r="3"/></g>
<g id="n92" transform="rotate(51.1)"><line class="ln" x1="232" x2="326"/><text x="287.4" y="-1">avium K10</text><circle cx="232" r="3"/></g>
<g id="n93" transform="rotate(54.5)"><line class="ln" x1="232" x2="326"/><text x="293" y="-1">avium MAP4</text><circle cx="232" r="3"/></g>
<g id="n94" transform="rotate(57.9)"><line class="ln" x1="240.7" x2="326"/><text x="294.5" y="-1">colombiense</text><circle cx="240.7" r="3"/></g>
<g id="n95" transform="rotate(61.3)"><line class="ln" x1="237.4" x2="326"/><text x="285.4" y="-1">chimaera</text><circle cx="237.4" r="3"/></g>
<g id="n96" transform="rotate(64.7)"><line class="ln" x1="239" x2="326"/><text x="290.7" y="-1">yongonense</text><circle cx="239" r="3"/></g>
<g id="n97" transform="rotate(68.1)"><line class="ln" x1="242" x2="326"/><text x="293.8" y="-1">intrac. 13950</text><circle cx="242" r="3"/></g>
<g id="n98" transform="rotate(71.5)"><line class="ln" x1="242.3" x2="326"/><text x="285" y="-1">intrac. 02</text><circle cx="242.3" r="3"/></g>
<g id="n99" transform="rotate(74.9)"><line class="ln" x1="241" x2="326"/><text x="286" y="-1">intrac. 64</text><circle cx="241" r="3"/></g>
<g id="n100" transform="rotate(78.3)"><line class="ln" x1="243" x2="326"/><text x="285.8" y="-1">ind. pranii</text><circle cx="243" r="3"/></g>
</g>
<g id="group-labels" class="g">
<text transform="translate(301.7 236.7) rotate(-35)" y="3.5">M. terrae</text>
<text transform="translate(435 181.7) rotate(-9)" y="3.5">M. celatum</text>
<text transform="translate(531 178.3) rotate(7)" y="3.5">M. kansasii</text>
<text transform="translate(783 354) rotate(62)" y="3.5">M. tuberculosis</text>
<text transform="translate(806 589.3) rotate(-69)" y="3.5">M. simiae</text>
<text transform="translate(638.7 792.7) rotate(-30)" y="3.5">M. avium</text>
<text transform="translate(370 802.7) rotate(20)" y="3.5">M. abscessus</text>
<text transform="translate(248.3 719.3) rotate(49)" y="3.5">M. smegmatis</text>
<text transform="translate(196.7 642.7) rotate(62)" y="3.5">M. fortuitum</text>
</g>
<g id="ring-labels" class="c">
<text x="494" y="843">Complex/Group</text>
<text x="494" y="858">NCBI/New</text>
<text x="494" y="874">Type Strain</text>
<text x="494" y="890">Growth rate</text>
<text x="494" y="906">GC Content</text>
<text x="494" y="921.5">Number of ORFs</text>
<text x="494" y="947">Genome length</text>
</g>
<g id="legend-complex">
<text class="h" x="13" y="27.5">Complex/group</text>
<rect class="k" x="18" y="38.3" width="26" height="18.5" fill="#fff"/><text class="l" x="54" y="52.3">No assignment</text>
<rect class="k" x="18" y="63" width="26" height="18.5" fill="#a65628"/><text class="l" x="54" y="77">M. smegmatis</text>
<rect class="k" x="18" y="87.6" width="26" height="18.5" fill="#984ea3"/><text class="l" x="54" y="101.6">M. fortuitum</text>
<rect class="k" x="18" y="112.2" width="26" height="18.5" fill="#e41a1c"/><text class="l" x="54" y="126.2">M. abscessus</text>
<rect class="k" x="18" y="136.8" width="26" height="18.5" fill="#4daf4a"/><text class="l" x="54" y="150.8">M. celatum</text>
<rect class="k" x="18" y="161.4" width="26" height="18.5" fill="#ff7f00"/><text class="l" x="54" y="175.4">M. kansasii</text>
<rect class="k" x="18" y="186" width="26" height="18.5" fill="#ffff33"/><text class="l" x="54" y="200">M. simiae</text>
<rect class="k" x="213.3" y="8.3" width="26" height="18.5" fill="#999"/><text class="l" x="248.3" y="24">M. tuberculosis</text>
<rect class="k" x="213.3" y="33.3" width="26" height="18.5" fill="#377eb8"/><text class="l" x="248.3" y="49">M. avium</text>
<rect class="k" x="213.3" y="57.7" width="26" height="18.5" fill="#f781bf"/><text class="l" x="248.3" y="73.3">M. terrae</text>
</g>
<g id="legend-ncbi">
<text class="h" x="729.3" y="30.7">NCBI/new</text>
<rect class="k" x="733.7" y="41.7" width="26" height="19" fill="#20b2aa"/><text class="l" x="768.7" y="57.3">Available in NCBI</text>
<rect class="k" x="733.7" y="66" width="26" height="19" fill="#da70d6"/><text class="l" x="768.7" y="80.3">Newly sequenced</text>
</g>
<g id="legend-growth">
<text class="h" x="824.3" y="109">Growth rate</text>
<rect class="k" x="829.3" y="120" width="26" height="18.7" fill="#fa8072"/><text class="l" x="864.7" y="135.7">Rapid</text>
<rect class="k" x="829.3" y="144.7" width="26" height="18.7" fill="#87cefa"/><text class="l" x="864.7" y="160.3">Slow</text>
<rect class="k" x="829.3" y="169.3" width="26" height="18.7" fill="#fff"/><text class="l" x="864.7" y="185">Unknown</text>
</g>
<g id="legend-orfs">
<text class="h" x="14" y="841"># ORFs</text>
<rect class="k" x="22.7" y="854.3" width="26.3" height="111.7" fill="url(#go)"/>
<path class="m" d="M49 854.5h2M49 882.7h2M49 910.3h2M49 938.3h2M49 966h2"/>
<text class="l" x="54.3" y="861">2000</text><text class="l" x="54.3" y="889">3250</text><text class="l" x="54.3" y="917">4500</text><text class="l" x="54.3" y="945">5750</text><text class="l" x="54.3" y="968.5">7000</text>
</g>
<g id="legend-type">
<text class="h" x="102.7" y="912">Type strain</text>
<rect class="k" x="108" y="923.3" width="26.3" height="18.4" fill="#a6a6a6"/><text class="l" x="143.3" y="936.7">Type strain</text>
<rect class="k" x="108" y="947.7" width="26.3" height="18.6" fill="#fff"/><text class="l" x="143.3" y="961.7">Non type strain</text>
</g>
<g id="legend-gc">
<text class="h" x="830.3" y="838.5">GC Content</text>
<rect class="k" x="842.3" y="851.3" width="27" height="111.4" fill="url(#gg)"/>
<path class="m" d="M869.3 851.5h2M869.3 878.7h2M869.3 906.7h2M869.3 934.3h2M869.3 962.5h2"/>
<text class="l" x="873.7" y="857.7">≤ 0.64</text><text class="l" x="888" y="885.3">0.66</text><text class="l" x="888" y="913.3">0.67</text><text class="l" x="888" y="941">0.69</text><text class="l" x="888" y="968.3">0.7</text>
</g>
<g id="outgroup">
<text transform="translate(419 876) rotate(-78)" font-size="20.5" text-anchor="middle" y="7">Outgroup</text>
</g>
</svg>
